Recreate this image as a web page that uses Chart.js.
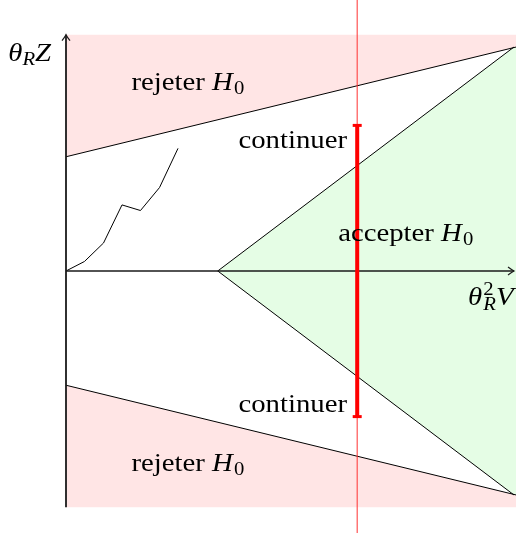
<!DOCTYPE html>
<html>
<head>
<meta charset="utf-8">
<script src="https://cdn.jsdelivr.net/npm/chart.js@4/dist/chart.umd.min.js"></script>
<style>
  html, body { margin: 0; padding: 0; background: #fff; }
  #wrap { width: 516px; height: 533px; }
</style>
</head>
<body>
<div id="wrap"><canvas id="chart"></canvas></div>
<script>
// sequential test regions (x = theta_R^2 V, y = theta_R Z)
const bandTop = 4.22;
const rejectX = [0, 8.04];
const rejectUpperY = [2.04, 4.0];
const rejectLowerY = [-2.04, -4.0];
const acceptX = [2.71, 8];
const acceptUpperY = [0, 4.0];
const acceptLowerY = [0, -4.0];

// sample path of the statistic
const walkX = [0, 0.33, 0.67, 1, 1.33, 1.67, 2];
const walkY = [0, 0.17, 0.5, 1.18, 1.08, 1.49, 2.19];

// decision time and its "continue" interval
const stopX = 5.2;
const continueY = [-2.6, 2.6];

// view window (origin sits at 66px, 271px on the canvas)
const xMin = -1.1786, xMax = 8.0357;
const yMin = -4.6786, yMax = 4.8393;

const PINK = '#ffe5e5';
const GREEN = '#e5fde5';

function lineThrough(xs, ys) {
  const slope = (ys[1] - ys[0]) / (xs[1] - xs[0]);
  return v => ys[0] + slope * (v - xs[0]);
}
const upper = lineThrough(rejectX, rejectUpperY);
const lower = lineThrough(rejectX, rejectLowerY);

const fills = [
  {
    data: [
      { x: 0, y: rejectUpperY[0] }, { x: xMax, y: upper(xMax) },
      { x: xMax, y: bandTop }, { x: 0, y: bandTop }, { x: 0, y: rejectUpperY[0] }
    ],
    backgroundColor: PINK
  },
  {
    data: [
      { x: 0, y: rejectLowerY[0] }, { x: xMax, y: lower(xMax) },
      { x: xMax, y: -bandTop }, { x: 0, y: -bandTop }, { x: 0, y: rejectLowerY[0] }
    ],
    backgroundColor: PINK
  },
  {
    data: [
      { x: acceptX[0], y: 0 }, { x: acceptX[1], y: acceptUpperY[1] },
      { x: xMax, y: acceptUpperY[1] }, { x: xMax, y: acceptLowerY[1] },
      { x: acceptX[1], y: acceptLowerY[1] }, { x: acceptX[0], y: 0 }
    ],
    backgroundColor: GREEN
  }
].map(d => Object.assign(d, {
  fill: 'shape', showLine: true, borderWidth: 0, borderColor: 'transparent',
  pointRadius: 0, order: 10
}));

function segment(xs, ys, color, width, order) {
  return {
    data: xs.map((x, i) => ({ x, y: ys[i] })),
    showLine: true, fill: false, borderColor: color, borderWidth: width,
    pointRadius: 0, order: order
  };
}

const datasets = [
  ...fills,
  segment(rejectX, rejectUpperY, '#000', 1, 5),
  segment(rejectX, rejectLowerY, '#000', 1, 5),
  segment(acceptX, acceptUpperY, '#000', 1, 5),
  segment(acceptX, acceptLowerY, '#000', 1, 5),
  segment(walkX, walkY, '#000', 1, 5),
  // axes
  segment([0, 0], [-bandTop, bandTop], '#1a1a1a', 1.8, 4),
  segment([0, 8.0], [0, 0], '#1a1a1a', 1.6, 4),
  // decision time
  segment([stopX, stopX], [yMin, yMax], 'rgba(255,40,40,0.8)', 1.2, 2),
  Object.assign(segment([stopX, stopX], continueY, '#ff0000', 4, 1), {
    pointRadius: 4.5, pointStyle: 'line', pointBorderWidth: 3,
    pointBorderColor: '#ff0000'
  })
];

// text drawn in runs so math italics and sub/superscripts can be mixed
const SERIF = '"Liberation Serif", "Times New Roman", serif';
const SX = 1.15;
function drawRuns(ctx, px, py, runs) {
  ctx.save();
  ctx.translate(px, py);
  ctx.scale(SX, 1);
  ctx.fillStyle = '#000';
  ctx.textBaseline = 'alphabetic';
  let cx = 0;
  runs.forEach(r => {
    const parts = r.stack || [r];
    let w = 0;
    parts.forEach(p => {
      ctx.font = (p.it ? 'italic ' : '') + (p.size || 25) + 'px ' + SERIF;
      ctx.fillText(p.t, cx, p.dy || 0);
      w = Math.max(w, ctx.measureText(p.t).width);
    });
    cx += w + (r.pad || 0);
  });
  ctx.restore();
}

const H0 = [{ t: 'H', it: true, pad: 1 }, { t: '0', size: 18, dy: 4 }];
const labels = [
  { x: 1.17, y: 3.23, runs: [{ t: 'rejeter ' }, ...H0] },
  { x: 1.17, y: -3.57, runs: [{ t: 'rejeter ' }, ...H0] },
  { x: 3.08, y: 2.19, runs: [{ t: 'continuer' }] },
  { x: 3.08, y: -2.52, runs: [{ t: 'continuer' }] },
  { x: 4.86, y: 0.54, runs: [{ t: 'accepter ' }, ...H0] },
  { x: -1.03, y: 3.75, runs: [{ t: 'θ', it: true }, { t: 'R', it: true, size: 18, dy: 4 }, { t: 'Z', it: true }] },
  { x: 7.18, y: -0.6, runs: [{ t: 'θ', it: true, pad: 1 },
      { stack: [{ t: '2', size: 18, dy: -10 }, { t: 'R', it: true, size: 18, dy: 5 }] },
      { t: 'V', it: true }] }
];

const annotate = {
  id: 'annotate',
  afterDatasetsDraw(chart) {
    const { ctx, scales: { x, y } } = chart;
    // arrow tips on the axes
    ctx.save();
    ctx.strokeStyle = '#1a1a1a';
    ctx.lineWidth = 1.2;
    const tx = x.getPixelForValue(0), ty = y.getPixelForValue(bandTop);
    ctx.beginPath();
    ctx.moveTo(tx - 4, ty + 6); ctx.quadraticCurveTo(tx - 1, ty + 2, tx, ty);
    ctx.quadraticCurveTo(tx + 1, ty + 2, tx + 4, ty + 6);
    ctx.stroke();
    const rx = x.getPixelForValue(8.0), ry = y.getPixelForValue(0);
    ctx.beginPath();
    ctx.moveTo(rx - 6, ry - 4); ctx.quadraticCurveTo(rx - 2, ry - 1, rx, ry);
    ctx.quadraticCurveTo(rx - 2, ry + 1, rx - 6, ry + 4);
    ctx.stroke();
    ctx.restore();
    labels.forEach(l => drawRuns(ctx, x.getPixelForValue(l.x), y.getPixelForValue(l.y), l.runs));
  }
};

new Chart(document.getElementById('chart'), {
  type: 'scatter',
  data: { datasets },
  options: {
    responsive: true,
    maintainAspectRatio: false,
    animation: false,
    layout: { padding: 0, autoPadding: false },
    plugins: { legend: { display: false }, tooltip: { enabled: false } },
    scales: {
      x: { type: 'linear', min: xMin, max: xMax, display: false },
      y: { type: 'linear', min: yMin, max: yMax, display: false }
    }
  },
  plugins: [annotate]
});
</script>
</body>
</html>
